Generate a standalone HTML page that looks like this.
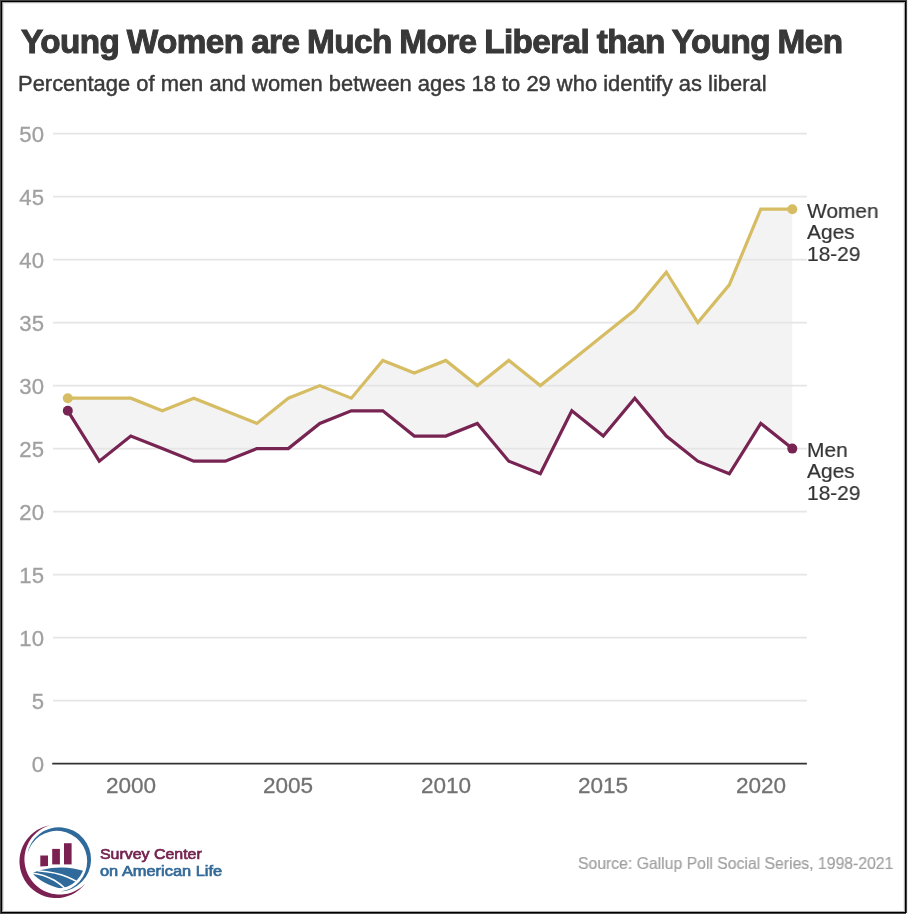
<!DOCTYPE html>
<html><head><meta charset="utf-8">
<style>
html,body{margin:0;padding:0;background:#fff;}
body{width:908px;height:914px;position:relative;overflow:hidden;font-family:"Liberation Sans",sans-serif;}
.title,.sub,.yl,.xl,.lab,.src,.l1,.l2{will-change:transform;}
.b{position:absolute;}
.title{position:absolute;left:20.5px;top:22.5px;font-size:33px;font-weight:bold;color:#383838;-webkit-text-stroke:1px #383838;white-space:nowrap;letter-spacing:-0.6px;word-spacing:-1px;transform-origin:0 0;transform:scaleX(1.01);}
.sub{position:absolute;left:17.5px;top:72px;font-size:21.5px;color:#3a3a3a;-webkit-text-stroke:0.45px #3a3a3a;white-space:nowrap;transform-origin:0 0;transform:scaleX(1.02);}
.yl{position:absolute;left:-56px;width:100px;text-align:right;font-size:21.5px;color:#a0a0a0;line-height:24px;transform-origin:100% 0;transform:scaleX(1.03);-webkit-text-stroke:0.3px #a0a0a0;}
.xl{position:absolute;top:773.6px;width:80px;text-align:center;font-size:22px;color:#727272;line-height:24px;transform:scaleX(1.025);-webkit-text-stroke:0.3px #727272;}
.lab{position:absolute;left:806.5px;font-size:21px;color:#333;-webkit-text-stroke:0.2px #333;line-height:21.3px;transform-origin:0 0;transform:scaleX(0.995);}
.src{position:absolute;left:578px;top:854px;font-size:16.5px;color:#a0a0a0;white-space:nowrap;transform-origin:0 0;transform:scaleX(0.955);-webkit-text-stroke:0.2px #a0a0a0;}
.l1{position:absolute;left:99.5px;top:845px;font-size:15.5px;color:#74234f;-webkit-text-stroke:0.7px #74234f;white-space:nowrap;line-height:17px;transform-origin:0 0;transform:scaleX(1.027);}
.l2{position:absolute;left:99.5px;top:861.5px;font-size:15.5px;color:#336a98;-webkit-text-stroke:0.7px #336a98;white-space:nowrap;line-height:17px;transform-origin:0 0;transform:scaleX(1.058);}
</style></head><body>
<div class="b" style="left:0;top:0;width:908px;height:1px;background:#444"></div>
<div class="b" style="left:0;top:1px;width:906px;height:1px;background:#000"></div>
<div class="b" style="left:2px;top:2px;width:902px;height:1px;background:#aaa"></div>
<div class="b" style="left:3px;top:3px;width:900px;height:1px;background:#eee"></div>
<div class="b" style="left:0;top:0;width:1px;height:914px;background:#444"></div>
<div class="b" style="left:1px;top:1px;width:1px;height:912px;background:#000"></div>
<div class="b" style="left:2px;top:2px;width:1px;height:909px;background:#999"></div>
<div class="b" style="left:3px;top:3px;width:1px;height:907px;background:#e2e2e2"></div>
<div class="b" style="left:903px;top:3px;width:1px;height:907px;background:#f0f0f0"></div>
<div class="b" style="left:904px;top:2px;width:1px;height:909px;background:#aaa"></div>
<div class="b" style="left:905px;top:1px;width:1px;height:912px;background:#000"></div>
<div class="b" style="left:906px;top:0;width:1px;height:913px;background:#444"></div>
<div class="b" style="left:907px;top:0;width:1px;height:914px;background:#eee"></div>
<div class="b" style="left:3px;top:910px;width:900px;height:1px;background:#fafafa"></div>
<div class="b" style="left:2px;top:911px;width:903px;height:1px;background:#aaa"></div>
<div class="b" style="left:1px;top:912px;width:905px;height:1px;background:#000"></div>
<div class="b" style="left:0;top:913px;width:906px;height:1px;background:#444"></div>

<div class="title">Young Women are Much More Liberal than Young Men</div>
<div class="sub">Percentage of men and women between ages 18 to 29 who identify as liberal</div>

<svg class="b" style="left:0;top:0" width="908" height="914" viewBox="0 0 908 914">
<polygon points="67.8,398.2 99.3,398.2 130.8,398.2 162.3,410.8 193.8,398.2 225.3,410.8 256.8,423.4 288.3,398.2 319.8,385.6 351.3,398.2 382.8,360.4 414.3,373.1 445.8,360.4 477.3,385.6 508.8,360.4 540.3,385.6 571.8,360.4 603.3,335.2 634.8,310.1 666.3,272.2 697.8,322.6 729.3,284.8 760.8,209.2 792.3,209.2 792.3,448.6 760.8,423.4 729.3,473.8 697.8,461.2 666.3,436.1 634.8,398.2 603.3,436.1 571.8,410.8 540.3,473.8 508.8,461.2 477.3,423.4 445.8,436.1 414.3,436.1 382.8,410.8 351.3,410.8 319.8,423.4 288.3,448.6 256.8,448.6 225.3,461.2 193.8,461.2 162.3,448.6 130.8,436.1 99.3,461.2 67.8,410.8" fill="#f3f3f3"/>
<line x1="53" y1="700.6" x2="806.9" y2="700.6" stroke="#e5e5e5" stroke-width="1.6"/>
<line x1="53" y1="637.6" x2="806.9" y2="637.6" stroke="#e5e5e5" stroke-width="1.6"/>
<line x1="53" y1="574.6" x2="806.9" y2="574.6" stroke="#e5e5e5" stroke-width="1.6"/>
<line x1="53" y1="511.6" x2="806.9" y2="511.6" stroke="#e5e5e5" stroke-width="1.6"/>
<line x1="53" y1="448.6" x2="806.9" y2="448.6" stroke="#e5e5e5" stroke-width="1.6"/>
<line x1="53" y1="385.6" x2="806.9" y2="385.6" stroke="#e5e5e5" stroke-width="1.6"/>
<line x1="53" y1="322.6" x2="806.9" y2="322.6" stroke="#e5e5e5" stroke-width="1.6"/>
<line x1="53" y1="259.6" x2="806.9" y2="259.6" stroke="#e5e5e5" stroke-width="1.6"/>
<line x1="53" y1="196.6" x2="806.9" y2="196.6" stroke="#e5e5e5" stroke-width="1.6"/>
<line x1="53" y1="133.6" x2="806.9" y2="133.6" stroke="#e5e5e5" stroke-width="1.6"/>

<line x1="52.2" y1="763.6" x2="806.9" y2="763.6" stroke="#333" stroke-width="1.6"/>
<polyline points="67.8,398.2 99.3,398.2 130.8,398.2 162.3,410.8 193.8,398.2 225.3,410.8 256.8,423.4 288.3,398.2 319.8,385.6 351.3,398.2 382.8,360.4 414.3,373.1 445.8,360.4 477.3,385.6 508.8,360.4 540.3,385.6 571.8,360.4 603.3,335.2 634.8,310.1 666.3,272.2 697.8,322.6 729.3,284.8 760.8,209.2 792.3,209.2" fill="none" stroke="#d6bd63" stroke-width="3.2" stroke-linejoin="miter"/>
<polyline points="67.8,410.8 99.3,461.2 130.8,436.1 162.3,448.6 193.8,461.2 225.3,461.2 256.8,448.6 288.3,448.6 319.8,423.4 351.3,410.8 382.8,410.8 414.3,436.1 445.8,436.1 477.3,423.4 508.8,461.2 540.3,473.8 571.8,410.8 603.3,436.1 634.8,398.2 666.3,436.1 697.8,461.2 729.3,473.8 760.8,423.4 792.3,448.6" fill="none" stroke="#772453" stroke-width="3.2" stroke-linejoin="miter"/>
<circle cx="67.8" cy="398.2" r="5" fill="#d6bd63"/>
<circle cx="792.3" cy="209.2" r="5" fill="#d6bd63"/>
<circle cx="67.8" cy="410.8" r="5" fill="#772453"/>
<circle cx="792.3" cy="448.6" r="5" fill="#772453"/>
</svg>
<div class="yl" style="top:752.6px">0</div>
<div class="yl" style="top:689.6px">5</div>
<div class="yl" style="top:626.6px">10</div>
<div class="yl" style="top:563.6px">15</div>
<div class="yl" style="top:500.6px">20</div>
<div class="yl" style="top:437.6px">25</div>
<div class="yl" style="top:374.6px">30</div>
<div class="yl" style="top:311.6px">35</div>
<div class="yl" style="top:248.6px">40</div>
<div class="yl" style="top:185.6px">45</div>
<div class="yl" style="top:122.6px">50</div>

<div class="xl" style="left:90.8px">2000</div>
<div class="xl" style="left:248.3px">2005</div>
<div class="xl" style="left:405.8px">2010</div>
<div class="xl" style="left:563.3px">2015</div>
<div class="xl" style="left:720.8px">2020</div>

<div class="lab" style="top:199.9px">Women<br>Ages<br>18-29</div>
<div class="lab" style="top:439.2px">Men<br>Ages<br>18-29</div>

<svg class="b" style="left:10px;top:815px" width="90" height="90" viewBox="0 0 90 90">
<defs><clipPath id="fc"><circle cx="47.13" cy="45.96" r="27.6"/></clipPath></defs>
<path d="M40.2 10.2 A36.66 36.66 0 1 0 75.2 68.7 A35.32 35.32 0 1 1 40.2 10.2 Z" fill="#7b2152"/>
<path d="M17.4 38.6 A32.09 32.09 0 1 1 50.5 76.4 A30.38 30.38 0 1 0 17.4 38.6 Z" fill="#2f6a9b"/>
<path d="M30.3 40.5 H38 V50.9 L30.3 51.6 Z" fill="#7b2152"/>
<rect x="42.2" y="33.9" width="7.7" height="15.5" fill="#7b2152"/>
<rect x="54" y="28.2" width="7.6" height="21.2" fill="#7b2152"/>
<g clip-path="url(#fc)">
<path d="M22.3 58.3 C27 55.5 38 52.8 50.7 52.6 C60 52.4 70 54.5 80 58 L80 85 L52 85 L52 73.7 C40 72 27 64 22.3 58.3 Z" fill="#2f6a9b"/>
</g>
<path d="M27.5 55.7 C38 56.5 50 58.5 58 62.2 C62 64 65 65.5 68 67.2" fill="none" stroke="#fff" stroke-width="1.5"/>
<path d="M21.5 57.9 C28 58.6 36 60.5 44.7 65.5 C48 67.5 51.5 70 55 73.5" fill="none" stroke="#fff" stroke-width="1.5"/>
</svg>
<div class="l1">Survey Center</div>
<div class="l2">on American Life</div>
<div class="src">Source: Gallup Poll Social Series, 1998-2021</div>
</body></html>
